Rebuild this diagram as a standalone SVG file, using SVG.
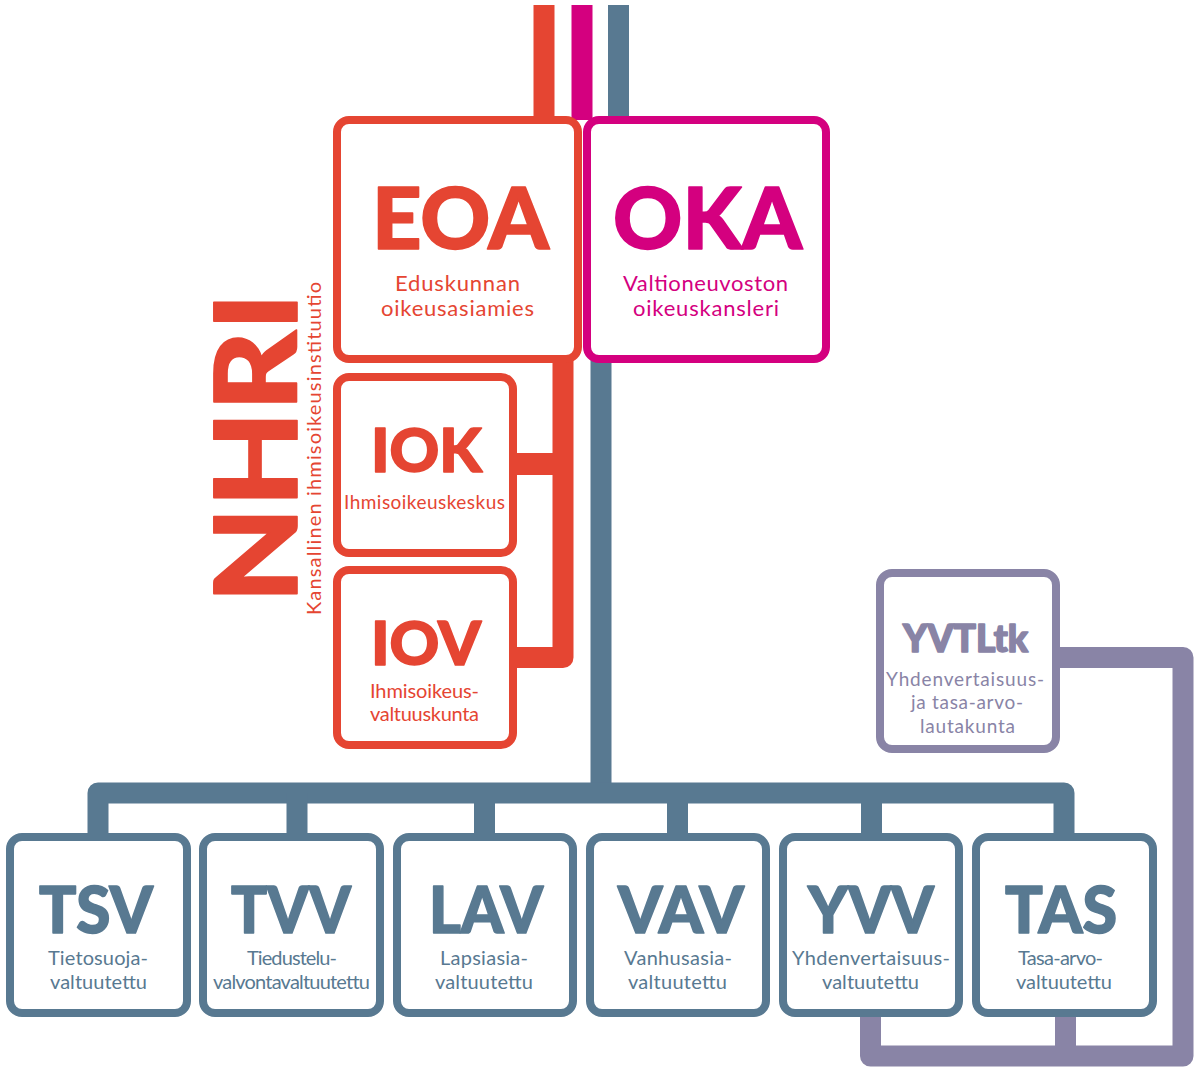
<svg xmlns="http://www.w3.org/2000/svg" width="1200" height="1067" viewBox="0 0 1200 1067">
<style>
.bg{fill:#ffffff}
.c{fill:none;stroke-width:21;stroke-linejoin:round;stroke-linecap:butt}
.box{fill:#ffffff;stroke-width:8}
.red{stroke:#e54532}
.mag{stroke:#d4007f}
.blu{stroke:#587991}
.pur{stroke:#8984a6}
text{font-family:Lato,"Open Sans","Liberation Sans",sans-serif;text-anchor:middle}
.h{font-weight:900;stroke-width:1.6;stroke-linejoin:round}
.s{font-weight:400}
.tr{fill:#e54532}
.tm{fill:#d4007f}
.tb{fill:#587991}
.tp{fill:#8984a6}
.h.tr{stroke:#e54532}
.h.tm{stroke:#d4007f}
.h.tb{stroke:#587991}
.h.tp{stroke:#8984a6}
</style>
<rect class="bg" x="0" y="0" width="1200" height="1067"/>
<g id="connectors">
  <path class="c red" d="M544 5V120"/>
  <path class="c mag" d="M582 5V120"/>
  <path class="c blu" d="M618.5 5V120"/>
  <path class="c red" d="M512 657.5H563V355"/>
  <path class="c red" d="M512 464H563" style="stroke-width:22"/>
  <path class="c blu" d="M601 355V793"/>
  <path class="c blu" d="M98 840V793H1064V840"/>
  <path class="c blu" d="M297 793V840"/>
  <path class="c blu" d="M484.5 793V840"/>
  <path class="c blu" d="M677.5 793V840"/>
  <path class="c blu" d="M871.5 793V840"/>
  <path class="c pur" d="M1056 657.5H1183V1056H870.5V1013"/>
  <path class="c pur" d="M1065.5 1056V1013"/>
</g>
<g id="nhri-label">
  <text class="h tr" transform="rotate(-90 297 603)" x="297" y="603" style="text-anchor:start;font-size:114px" textLength="310" lengthAdjust="spacingAndGlyphs">NHRI</text>
  <text class="s tr" transform="rotate(-90 321 615)" x="321" y="615" style="text-anchor:start;font-size:20px" textLength="333" lengthAdjust="spacing">Kansallinen ihmisoikeusinstituutio</text>
</g>
<g id="EOA">
  <rect class="box red" x="337" y="120" width="241" height="239" rx="12"/>
  <text class="h tr" x="460.5" y="249" style="font-size:85px" textLength="177" lengthAdjust="spacingAndGlyphs">EOA</text>
  <text class="s tr" x="457.5" y="291" style="font-size:22px" textLength="125" lengthAdjust="spacing">Eduskunnan</text>
  <text class="s tr" x="457.5" y="316" style="font-size:22px" textLength="153" lengthAdjust="spacing">oikeusasiamies</text>
</g>
<g id="OKA">
  <rect class="box mag" x="587" y="120" width="239" height="239" rx="12"/>
  <text class="h tm" x="707.5" y="249" style="font-size:85px" textLength="189" lengthAdjust="spacingAndGlyphs">OKA</text>
  <text class="s tm" x="705.5" y="291" style="font-size:22px" textLength="165" lengthAdjust="spacing">Valtioneuvoston</text>
  <text class="s tm" x="706" y="316" style="font-size:22px" textLength="146" lengthAdjust="spacing">oikeuskansleri</text>
</g>
<g id="IOK">
  <rect class="box red" x="337" y="377" width="176" height="176" rx="12"/>
  <text class="h tr" x="426.5" y="472" style="font-size:61px" textLength="111" lengthAdjust="spacingAndGlyphs">IOK</text>
  <text class="s tr" x="424.5" y="509" style="font-size:19px" textLength="161" lengthAdjust="spacing">Ihmisoikeuskeskus</text>
</g>
<g id="IOV">
  <rect class="box red" x="337" y="570" width="176" height="175" rx="12"/>
  <text class="h tr" x="426" y="665" style="font-size:61px" textLength="110" lengthAdjust="spacingAndGlyphs">IOV</text>
  <text class="s tr" x="424.5" y="698" style="font-size:20px" textLength="109" lengthAdjust="spacing">Ihmisoikeus-</text>
  <text class="s tr" x="424.5" y="721" style="font-size:20px" textLength="109" lengthAdjust="spacing">valtuuskunta</text>
</g>
<g id="YVTLtk">
  <rect class="box pur" x="880" y="573" width="176" height="176" rx="12"/>
  <text class="h tp" x="965.5" y="652" style="font-size:37px" textLength="125" lengthAdjust="spacingAndGlyphs">YVTLtk</text>
  <text class="s tp" x="965" y="686" style="font-size:19px" textLength="158" lengthAdjust="spacing">Yhdenvertaisuus-</text>
  <text class="s tp" x="967" y="709" style="font-size:19px" textLength="112" lengthAdjust="spacing">ja tasa-arvo-</text>
  <text class="s tp" x="967.5" y="733" style="font-size:19px" textLength="95" lengthAdjust="spacing">lautakunta</text>
</g>
<g id="TSV">
  <rect class="box blu" x="10" y="837" width="177" height="176" rx="12"/>
  <text class="h tb" x="96" y="933" style="font-size:64px" textLength="114" lengthAdjust="spacingAndGlyphs">TSV</text>
  <text class="s tb" x="98" y="965" style="font-size:20px" textLength="100" lengthAdjust="spacing">Tietosuoja-</text>
  <text class="s tb" x="98.5" y="989" style="font-size:20px" textLength="97" lengthAdjust="spacing">valtuutettu</text>
</g>
<g id="TVV">
  <rect class="box blu" x="203" y="837" width="177" height="176" rx="12"/>
  <text class="h tb" x="291" y="933" style="font-size:64px" textLength="120" lengthAdjust="spacingAndGlyphs">TVV</text>
  <text class="s tb" x="292" y="965" style="font-size:20px" textLength="90" lengthAdjust="spacing">Tiedustelu-</text>
  <text class="s tb" x="291.5" y="989" style="font-size:20px" textLength="157" lengthAdjust="spacing">valvontavaltuutettu</text>
</g>
<g id="LAV">
  <rect class="box blu" x="397" y="837" width="176" height="176" rx="12"/>
  <text class="h tb" x="486" y="933" style="font-size:64px" textLength="114" lengthAdjust="spacingAndGlyphs">LAV</text>
  <text class="s tb" x="484" y="965" style="font-size:20px" textLength="88" lengthAdjust="spacing">Lapsiasia-</text>
  <text class="s tb" x="484" y="989" style="font-size:20px" textLength="98" lengthAdjust="spacing">valtuutettu</text>
</g>
<g id="VAV">
  <rect class="box blu" x="590" y="837" width="176" height="176" rx="12"/>
  <text class="h tb" x="681" y="933" style="font-size:64px" textLength="126" lengthAdjust="spacingAndGlyphs">VAV</text>
  <text class="s tb" x="678" y="965" style="font-size:20px" textLength="108" lengthAdjust="spacing">Vanhusasia-</text>
  <text class="s tb" x="677.5" y="989" style="font-size:20px" textLength="99" lengthAdjust="spacing">valtuutettu</text>
</g>
<g id="YVV">
  <rect class="box blu" x="783" y="837" width="176" height="176" rx="12"/>
  <text class="h tb" x="871" y="933" style="font-size:64px" textLength="126" lengthAdjust="spacingAndGlyphs">YVV</text>
  <text class="s tb" x="871" y="965" style="font-size:20px" textLength="158" lengthAdjust="spacing">Yhdenvertaisuus-</text>
  <text class="s tb" x="870.5" y="989" style="font-size:20px" textLength="97" lengthAdjust="spacing">valtuutettu</text>
</g>
<g id="TAS">
  <rect class="box blu" x="976" y="837" width="177" height="176" rx="12"/>
  <text class="h tb" x="1061" y="933" style="font-size:64px" textLength="112" lengthAdjust="spacingAndGlyphs">TAS</text>
  <text class="s tb" x="1060.5" y="965" style="font-size:20px" textLength="85" lengthAdjust="spacing">Tasa-arvo-</text>
  <text class="s tb" x="1064" y="989" style="font-size:20px" textLength="96" lengthAdjust="spacing">valtuutettu</text>
</g>
</svg>
